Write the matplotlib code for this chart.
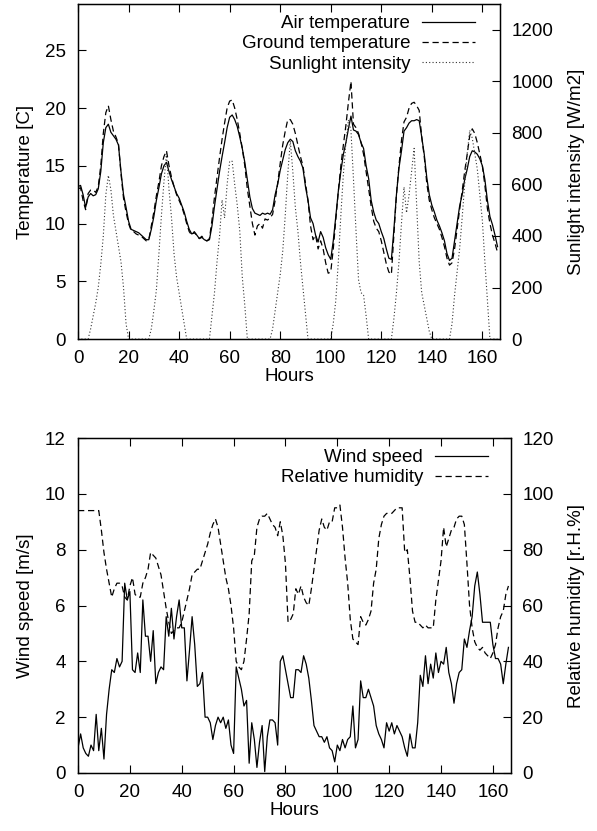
import numpy as np
import matplotlib
matplotlib.use("Agg")
import matplotlib.pyplot as plt

plt.rcParams["font.family"] = ["Liberation Sans", "DejaVu Sans"]
plt.rcParams["font.size"] = 13.5

# hourly readings, hour 0 .. 166
air_temp = [
    13.2, 13.3, 12.5, 11.4, 12.3, 12.6, 12.4, 12.5, 13.0, 14.5, 17.0, 18.3,
    18.6, 17.9, 17.6, 17.3, 16.8, 14.5, 12.5, 11.4, 10.2, 9.5, 9.4, 9.3,
    9.2, 9.0, 8.8, 8.6, 8.6, 9.5, 10.6, 12.0, 13.1, 14.3, 15.0, 15.3,
    14.5, 13.8, 13.2, 12.6, 12.2, 11.6, 11.0, 10.2, 9.5, 9.1, 9.2, 9.0,
    8.7, 8.8, 8.6, 8.5, 8.6, 9.8, 11.5, 13.0, 14.5, 15.8, 17.0, 18.3,
    19.2, 19.4, 19.0, 18.4, 17.5, 16.5, 15.3, 13.8, 12.3, 11.3, 10.9, 10.8,
    10.7, 10.9, 10.8, 10.9, 10.8, 11.2, 12.5, 13.4, 14.6, 15.5, 16.4, 17.0,
    17.3, 17.1, 16.3, 15.8, 15.4, 14.8, 13.2, 12.0, 10.5, 10.0, 9.0, 8.4,
    9.3, 8.8, 7.9, 7.3, 6.9, 8.5, 10.6, 12.8, 14.5, 16.0, 17.0, 18.2,
    19.3, 18.1, 18.0, 17.7, 17.0, 16.5, 15.0, 13.9, 12.0, 11.0, 10.3, 10.0,
    9.3, 8.7, 7.8, 7.0, 6.9, 9.5, 12.5, 14.8, 16.3, 18.0, 18.3, 18.7,
    18.9, 18.9, 19.0, 18.9, 17.5, 16.0, 14.0, 12.5, 11.6, 11.0, 10.3, 9.8,
    9.2, 8.5, 7.4, 6.8, 7.0, 8.5, 10.0, 11.5, 12.5, 13.8, 14.7, 15.8,
    16.3, 16.2, 16.0, 15.6, 15.0, 13.8, 12.0, 10.6, 9.9, 9.0, 8.0,
]
ground_temp = [
    13.0, 13.1, 12.0, 11.2, 12.6, 12.9, 12.9, 12.7, 13.2, 15.0, 17.8, 19.6,
    20.2, 19.0, 18.0, 17.5, 16.9, 14.3, 12.2, 11.0, 10.0, 9.4, 9.3, 9.1,
    9.0, 8.9, 8.7, 8.5, 8.6, 9.8, 11.0, 12.4, 13.6, 15.0, 15.8, 16.3,
    15.0, 14.0, 13.2, 12.5, 12.0, 11.5, 10.8, 10.0, 9.3, 9.0, 9.3, 9.0,
    8.7, 8.9, 8.6, 8.5, 8.7, 10.3, 12.3, 14.0, 15.7, 17.3, 18.7, 20.0,
    20.6, 20.7, 20.0, 19.0, 17.8, 16.5, 15.0, 13.0, 11.5, 10.0, 9.0, 9.8,
    10.0, 9.6, 10.4, 10.3, 10.5, 10.8, 12.0, 13.5, 15.2, 16.8, 18.0, 19.0,
    19.0, 18.6, 17.8, 16.8, 15.8, 15.0, 13.5, 12.0, 9.8, 8.6, 9.0, 7.8,
    8.5, 7.8, 6.6, 5.7, 5.8, 7.8, 10.3, 12.8, 15.0, 16.8, 18.5, 20.5,
    22.3, 18.6, 18.3, 17.8, 17.0, 16.0, 14.5, 13.0, 11.5, 10.2, 9.6, 9.3,
    8.5, 7.5, 6.5, 5.8, 5.6, 9.0, 12.5, 15.0, 17.2, 18.8, 19.2, 20.0,
    20.4, 20.5, 20.2, 19.8, 17.5, 15.8, 13.5, 12.0, 11.2, 10.5, 10.0, 9.5,
    8.8, 8.0, 7.0, 6.4, 6.6, 7.8, 9.5, 11.2, 12.8, 14.5, 16.0, 17.6,
    18.2, 17.8, 17.0, 16.0, 15.0, 13.3, 11.3, 10.0, 9.0, 8.3, 7.5,
]
sunlight = [
    0, 0, 0, 0, 0, 40, 90, 140, 200, 290, 400, 560,
    635, 580, 480, 420, 360, 300, 200, 60, 0, 0, 0, 0,
    0, 0, 0, 0, 0, 40, 110, 190, 330, 480, 610, 720,
    580, 470, 330, 240, 180, 120, 60, 0, 0, 0, 0, 0,
    0, 0, 0, 0, 0, 90, 180, 300, 400, 540, 470, 600,
    690, 690, 600, 520, 420, 240, 130, 0, 0, 0, 0, 0,
    0, 0, 0, 0, 0, 40, 110, 180, 250, 340, 480, 640,
    770, 650, 510, 420, 300, 200, 100, 0, 0, 0, 0, 0,
    0, 0, 0, 0, 0, 60, 150, 300, 480, 640, 760, 850,
    810, 620, 420, 230, 180, 170, 90, 0, 0, 0, 0, 0,
    0, 0, 0, 0, 0, 80, 180, 300, 450, 590, 490, 560,
    650, 740, 520, 300, 180, 130, 80, 30, 0, 0, 0, 0,
    0, 0, 0, 0, 60, 170, 260, 350, 470, 600, 720, 810,
    780, 720, 660, 560, 460, 300, 150, 0, 0, 0, 0,
]
wind_speed = [
    0.9, 1.4, 0.9, 0.7, 0.6, 1.0, 0.8, 2.1, 0.8, 1.6, 0.5, 2.1,
    3.0, 3.7, 3.6, 4.1, 3.8, 4.0, 6.8, 6.2, 6.5, 3.7, 3.6, 4.3,
    3.6, 6.2, 4.9, 4.9, 4.0, 5.1, 3.2, 3.6, 3.8, 3.7, 5.6, 4.9,
    5.9, 4.8, 5.6, 6.2, 5.2, 5.2, 3.3, 4.4, 5.6, 4.6, 3.1, 3.2,
    3.6, 2.0, 2.0, 1.8, 1.2, 1.7, 2.0, 1.8, 2.0, 1.6, 1.9, 1.0,
    0.7, 3.8, 3.4, 3.0, 2.4, 2.6, 0.35, 1.8, 1.2, 0.2, 1.1, 1.7,
    0.05, 1.3, 1.9, 1.9, 1.8, 1.0, 4.0, 4.2, 3.7, 3.2, 2.7, 2.7,
    3.7, 3.7, 3.6, 4.2, 3.9, 3.4, 2.6, 1.7, 1.5, 1.3, 1.3, 1.1,
    1.3, 0.9, 0.8, 0.4, 1.0, 0.8, 1.2, 0.9, 1.2, 1.3, 2.4, 0.9,
    1.2, 3.3, 2.7, 2.7, 3.0, 2.7, 2.4, 1.7, 1.4, 1.2, 0.9, 1.8,
    1.5, 1.8, 1.4, 1.7, 1.5, 1.3, 0.9, 0.6, 1.4, 0.9, 0.9, 1.8,
    3.5, 3.1, 4.2, 3.2, 3.9, 3.4, 4.3, 3.6, 4.0, 3.9, 4.5, 3.6,
    3.2, 2.5, 3.2, 3.6, 3.7, 4.8, 4.5, 5.1, 5.6, 6.7, 7.2, 6.4,
    5.4, 5.4, 5.4, 5.4, 4.6, 4.1, 4.1, 3.9, 3.2, 3.9, 4.5,
]
humidity = [
    94, 94, 94, 94, 94, 94, 94, 94, 94, 87, 79, 73,
    68, 63, 66, 68, 68, 67, 63, 62, 67, 70, 64, 63,
    63, 68, 70, 73, 79, 78, 77, 74, 71, 65, 59, 54,
    50, 51, 52, 52, 54, 58, 62, 66, 71, 72, 73, 73,
    76, 79, 82, 86, 89, 91, 88, 82, 76, 70, 66, 60,
    52, 40, 38, 37, 40, 48, 57, 76, 78, 88, 91, 92,
    92, 93, 91, 89, 88, 85, 90, 85, 75, 54, 55, 57,
    66, 64, 67, 63, 61, 60, 66, 73, 80, 87, 91, 88,
    87, 90, 90, 95, 95, 96, 88, 77, 68, 55, 48, 47,
    46, 56, 54, 53, 55, 58, 68, 73, 84, 89, 92, 93,
    93, 93, 94, 95, 95, 95, 79, 80, 70, 58, 54, 54,
    53, 52, 53, 52, 52, 52, 62, 69, 76, 88, 81, 84,
    87, 88, 91, 92, 92, 89, 75, 60, 52, 47, 45, 44,
    45, 43, 42, 41, 43, 46, 52, 56, 58, 64, 67,
]

x_ticks = [0, 20, 40, 60, 80, 100, 120, 140, 160]

DASH = (5, 3)
DOT = (1, 2)
LW = 0.9


def style_axes(ax, ax2):
    for sp in ax.spines.values():
        sp.set_linewidth(1.0)
    ax.tick_params(direction="in", length=6, width=0.8, top=True, right=False)
    ax.tick_params(axis="y", pad=9)
    ax.tick_params(axis="x", pad=8)
    ax2.tick_params(direction="in", length=6, width=0.8, pad=8)
    ax.set_xticks(x_ticks)
    ax.set_xlim(0, 167)


def add_legend(ax, handles, anchor):
    ax.legend(handles=handles, loc="upper right", bbox_to_anchor=anchor,
              frameon=False, markerfirst=False, handlelength=2.83,
              handletextpad=0.64, labelspacing=0.16, borderpad=0,
              borderaxespad=0)


fig = plt.figure(figsize=(5.97, 8.31), dpi=100)

# top panel: temperatures and sunlight
ax = fig.add_axes([0.1307, 0.592, 0.7069, 0.4031])
ax2 = ax.twinx()
l1, = ax.plot(np.arange(len(air_temp)), air_temp, color="black", lw=LW,
              label="Air temperature")
l2, = ax.plot(np.arange(len(ground_temp)), ground_temp, color="black", lw=LW,
              dashes=DASH, label="Ground temperature")
l3, = ax2.plot(np.arange(len(sunlight)), sunlight, color="#333333", lw=0.8,
               dashes=DOT, label="Sunlight intensity")
ax.set_ylim(0, 29)
ax.set_yticks([0, 5, 10, 15, 20, 25])
ax2.set_ylim(0, 1300)
ax2.set_yticks([0, 200, 400, 600, 800, 1000, 1200])
style_axes(ax, ax2)
ax.set_xlabel("Hours")
ax.set_ylabel("Temperature [C]")
ax2.set_ylabel("Sunlight intensity [W/m2]")
ax.xaxis.set_label_coords(0.5, -0.0866)
ax.yaxis.set_label_coords(-0.104, 0.5)
ax2.yaxis.set_label_coords(1.161, 0.5)
add_legend(ax2, [l1, l2, l3], (0.941, 0.967))

# bottom panel: wind and humidity
bx = fig.add_axes([0.1307, 0.0698, 0.7253, 0.4031])
bx2 = bx.twinx()
m1, = bx.plot(np.arange(len(wind_speed)), wind_speed, color="black", lw=LW,
              label="Wind speed")
m2, = bx2.plot(np.arange(len(humidity)), humidity, color="black", lw=LW,
               dashes=DASH, label="Relative humidity")
bx.set_ylim(0, 12)
bx.set_yticks([0, 2, 4, 6, 8, 10, 12])
bx2.set_ylim(0, 120)
bx2.set_yticks([0, 20, 40, 60, 80, 100, 120])
style_axes(bx, bx2)
bx.set_xlabel("Hours")
bx.set_ylabel("Wind speed [m/s]")
bx2.set_ylabel("Relative humidity [r.H.%]")
bx.xaxis.set_label_coords(0.5, -0.0866)
bx.yaxis.set_label_coords(-0.102, 0.5)
bx2.yaxis.set_label_coords(1.132, 0.5)
add_legend(bx2, [m1, m2], (0.947, 0.967))

fig.savefig("out.png", dpi=100)
